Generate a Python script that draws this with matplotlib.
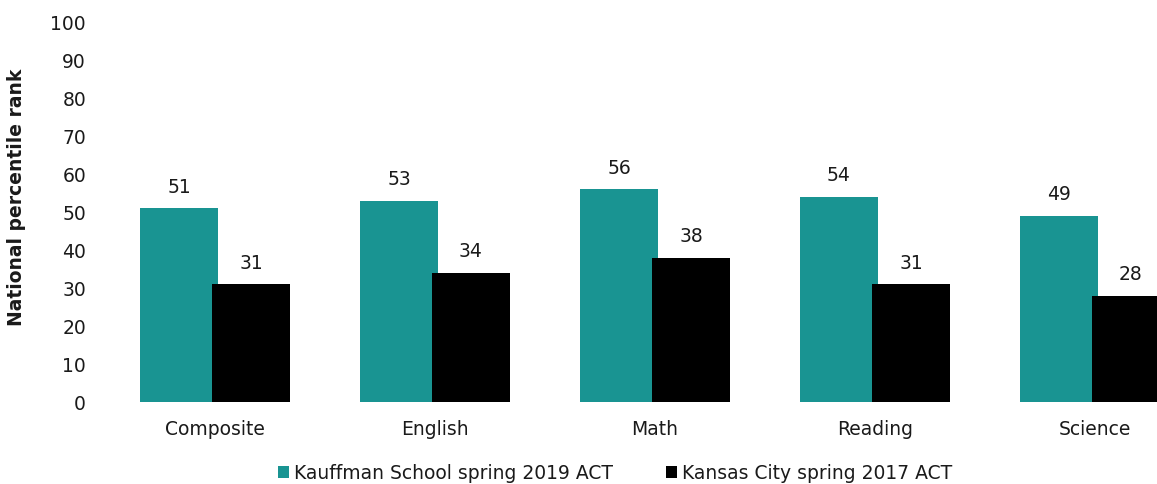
import numpy as np
import matplotlib
matplotlib.use("Agg")
import matplotlib.pyplot as plt

# data
subjects = ["Composite", "English", "Math", "Reading", "Science"]
kauffman_2019 = [51, 53, 56, 54, 49]
kansas_city_2017 = [31, 34, 38, 31, 28]
series_names = ["Kauffman School spring 2019 ACT", "Kansas City spring 2017 ACT"]

TEAL = "#199492"
BLACK = "#000000"
TEXT = "#1a1a1a"
FS = 13.5

plt.rcParams["font.family"] = ["DejaVu Sans"]

W, H = 1157, 485
fig = plt.figure(figsize=(W / 100, H / 100), dpi=100)
# axes placed in pixel terms: left 100px, right edge of figure, y from 403 to 23
ax = fig.add_axes([100 / W, (H - 403) / H, (W - 100) / W, (403 - 23) / H])

x = np.arange(len(subjects))
step = 220.0  # pixels between category centres
width = 78 / step
offset = 36 / step

ax.bar(x - offset, kauffman_2019, width=width, color=TEAL, label=series_names[0], zorder=2)
ax.bar(x + offset, kansas_city_2017, width=width, color=BLACK, label=series_names[1], zorder=3)

for xi, v in zip(x, kauffman_2019):
    ax.text(xi - offset, v + 3.3, str(v), ha="center", va="bottom", fontsize=FS, color=TEXT)
for xi, v in zip(x, kansas_city_2017):
    ax.text(xi + offset, v + 3.3, str(v), ha="center", va="bottom", fontsize=FS, color=TEXT)

ax.set_xlim((100 - 215) / step, (W - 215) / step)
ax.set_ylim(0, 100)
ax.set_yticks(range(0, 101, 10))
ax.set_xticks(x)
ax.set_xticklabels(subjects)
ax.tick_params(axis="both", length=0, labelsize=FS, colors=TEXT)
ax.tick_params(axis="x", pad=12)
ax.tick_params(axis="y", pad=10)
for s in ax.spines.values():
    s.set_visible(False)

fig.text(17 / W, (H - 197) / H, "National percentile rank", rotation=90,
         ha="center", va="center", fontsize=FS, fontweight="bold", color=TEXT)

handles, labels = ax.get_legend_handles_labels()
fig.legend(handles, labels, loc="center", bbox_to_anchor=(615 / W, (H - 474) / H),
           ncol=2, frameon=False, fontsize=FS, handlelength=0.6, handleheight=0.6,
           handletextpad=0.25, columnspacing=2.8, labelcolor=TEXT)

fig.savefig("out.png", dpi=100)
